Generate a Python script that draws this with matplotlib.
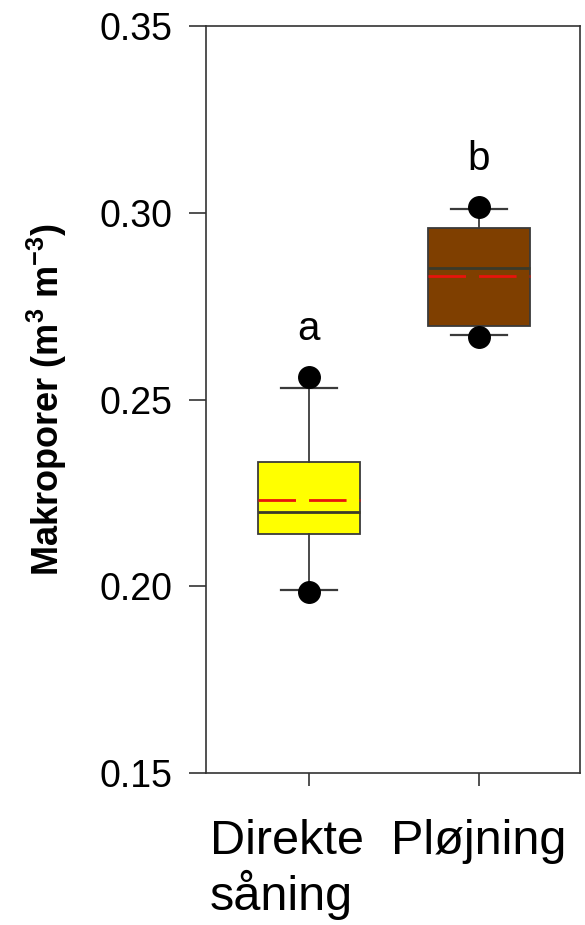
import matplotlib
matplotlib.use('Agg')
import matplotlib.pyplot as plt
from matplotlib.transforms import ScaledTranslation

plt.rcParams['font.family'] = ['Liberation Sans', 'DejaVu Sans']
plt.rcParams['mathtext.default'] = 'regular'

# box statistics
groups = ['Direkte\nsåning', 'Pløjning']
q1 = [0.2141, 0.2697]
medians = [0.2199, 0.2852]
q3 = [0.2332, 0.2959]
means = [0.2231, 0.2831]
whisLo = [0.1991, 0.2673]
whisHi = [0.2532, 0.3010]
outliers = [[0.1984, 0.2561], [0.2668, 0.3015]]
letters = ['a', 'b']
letterY = [0.2659, 0.3114]
boxColors = ['#ffff00', '#7f3f00']

stats = []
for i in range(len(groups)):
    stats.append(dict(med=medians[i], q1=q1[i], q3=q3[i], mean=means[i],
                      whislo=whisLo[i], whishi=whisHi[i], fliers=outliers[i]))

fig = plt.figure(figsize=(5.85, 9.25), dpi=100)
ax = fig.add_axes([0.352, 0.1643, 0.639, 0.8076])

edge = '#3a3a3a'
bp = ax.bxp(stats, positions=[1, 2], widths=0.6, patch_artist=True,
            showmeans=True, meanline=True, showfliers=True,
            boxprops=dict(edgecolor=edge, linewidth=1.3),
            medianprops=dict(color='#3a3a2a', linewidth=2),
            meanprops=dict(color='#e8140c', linewidth=2, linestyle=(0, (13.5, 4.7))),
            whiskerprops=dict(color=edge, linewidth=1.3),
            capprops=dict(color=edge, linewidth=1.6),
            capwidths=0.33,
            flierprops=dict(marker='o', markerfacecolor='black', markeredgecolor='black',
                            markersize=15.5))
for patch, c in zip(bp['boxes'], boxColors):
    patch.set_facecolor(c)

for i, (l, y) in enumerate(zip(letters, letterY)):
    ax.text(i + 1, y, l, ha='center', va='baseline', fontsize=29)

ax.set_xlim(0.394, 2.594)
ax.set_ylim(0.15, 0.35)
ax.set_yticks([0.15, 0.20, 0.25, 0.30, 0.35])
ax.set_yticklabels(['{:.2f}'.format(v) for v in [0.15, 0.20, 0.25, 0.30, 0.35]])
ax.set_xticks([1, 2])
ax.set_xticklabels(groups, multialignment='left', linespacing=1.15)

ax.tick_params(axis='y', direction='out', length=12, width=1.2, colors='#333333',
               labelcolor='black', labelsize=27, pad=12)
ax.tick_params(axis='x', direction='out', length=9, width=1.2, colors='#333333',
               labelcolor='black', labelsize=35, pad=24)
for sp in ax.spines.values():
    sp.set_color('#333333')
    sp.set_linewidth(1.2)

# the two-line label sits a bit left of its tick in the original
firstLabel = ax.get_xticklabels()[0]
firstLabel.set_transform(firstLabel.get_transform()
                         + ScaledTranslation(-0.22, 0, fig.dpi_scale_trans))

ax.set_ylabel('Makroporer (m$^{3}$ m$^{-3}$)', fontsize=26, fontweight='bold', labelpad=22)

fig.savefig('out.png', dpi=100)
